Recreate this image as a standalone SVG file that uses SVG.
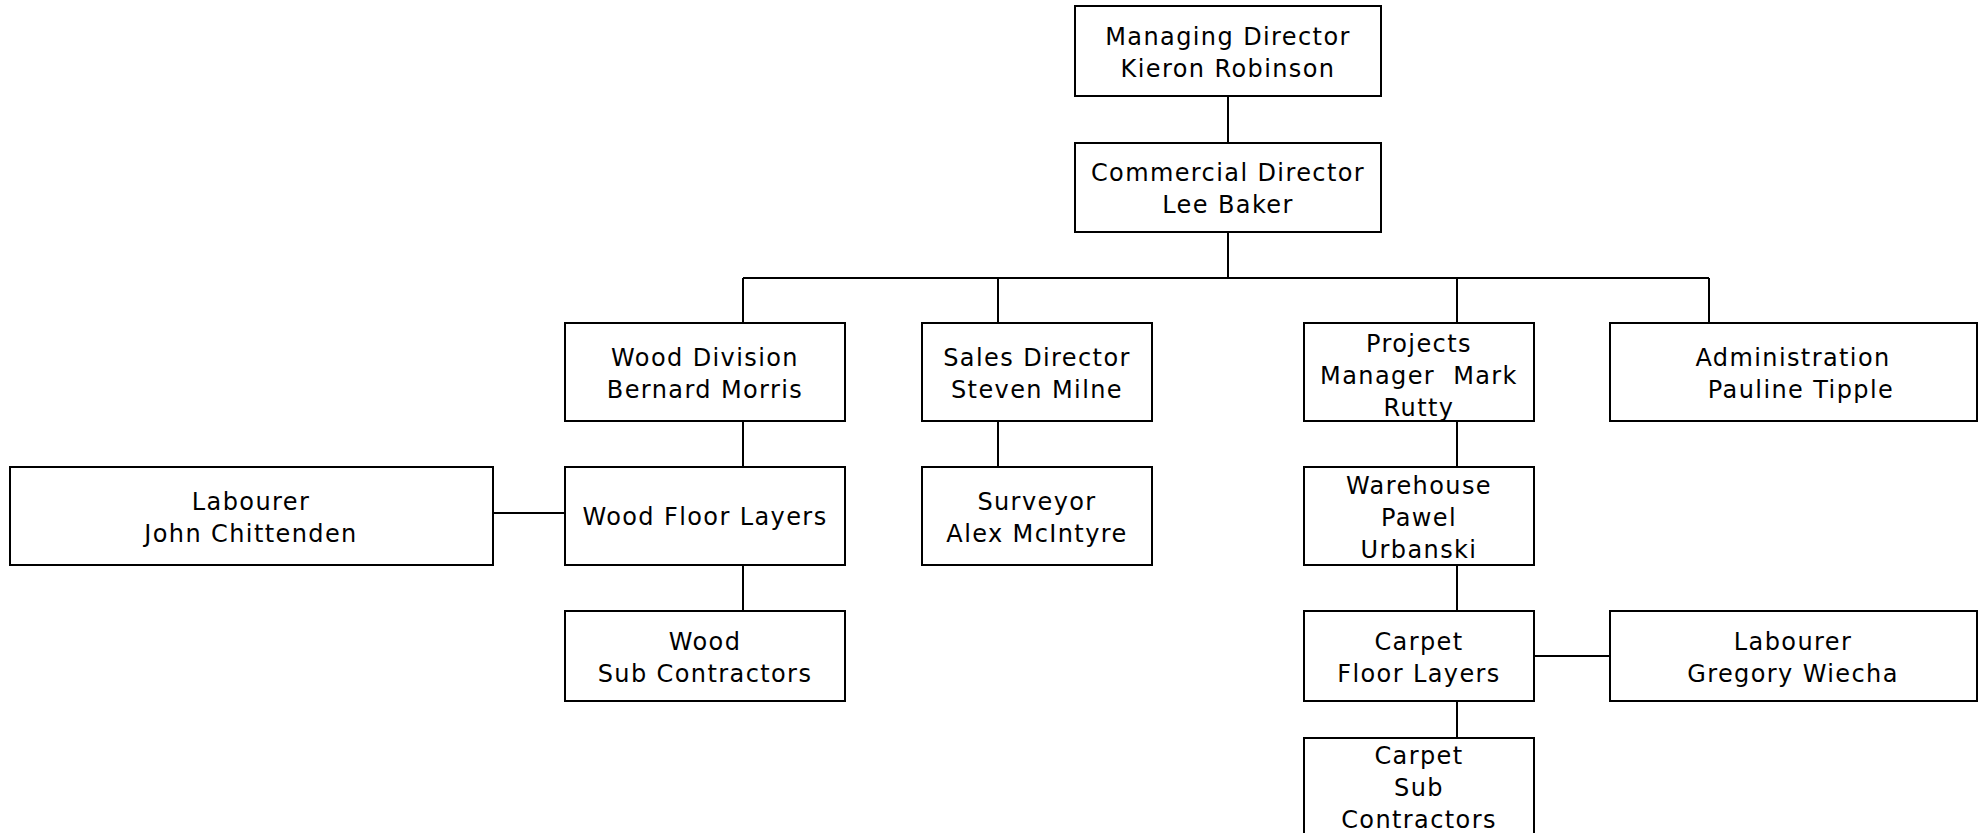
<svg xmlns="http://www.w3.org/2000/svg" width="1981" height="833" viewBox="0 0 1981 833">
<style>
.box{fill:#fff;stroke:#000;stroke-width:2}
.t{font-family:"DejaVu Sans",Verdana,sans-serif;font-size:24px;letter-spacing:1.4px;fill:#000;text-anchor:middle}
.c{stroke:#000;stroke-width:2;fill:none}
</style>
<rect width="1981" height="833" fill="#fff"/>
<g id="connectors">
<path class="c" d="M1228 96V143M1228 232V278M743 278H1709M743 278V323M998 278V323M1457 278V323M1709 278V323"/>
<path class="c" d="M743 421V467M998 421V467M1457 421V467M493 513H565M743 565V611M1457 565V611M1534 656H1610M1457 701V738"/>
</g>
<g id="managing-director"><rect class="box" x="1075" y="6" width="306" height="90"/><text class="t" x="1228" y="45">Managing Director</text><text class="t" x="1228" y="77">Kieron Robinson</text></g>
<g id="commercial-director"><rect class="box" x="1075" y="143" width="306" height="89"/><text class="t" x="1228" y="181">Commercial Director</text><text class="t" x="1228" y="213">Lee Baker</text></g>
<g id="wood-division"><rect class="box" x="565" y="323" width="280" height="98"/><text class="t" x="705" y="366">Wood Division</text><text class="t" x="705" y="398">Bernard Morris</text></g>
<g id="sales-director"><rect class="box" x="922" y="323" width="230" height="98"/><text class="t" x="1037" y="366">Sales Director</text><text class="t" x="1037" y="398">Steven Milne</text></g>
<g id="projects-manager"><rect class="box" x="1304" y="323" width="230" height="98"/><text class="t" x="1419" y="352">Projects</text><text class="t" x="1419" y="384" xml:space="preserve">Manager  Mark</text><text class="t" x="1419" y="416">Rutty</text></g>
<g id="administration"><rect class="box" x="1610" y="323" width="367" height="98"/><text class="t" x="1793" y="366">Administration</text><text class="t" x="1801" y="398">Pauline Tipple</text></g>
<g id="labourer-john"><rect class="box" x="10" y="467" width="483" height="98"/><text class="t" x="251" y="510">Labourer</text><text class="t" x="251" y="542">John Chittenden</text></g>
<g id="wood-floor-layers"><rect class="box" x="565" y="467" width="280" height="98"/><text class="t" x="705" y="525">Wood Floor Layers</text></g>
<g id="surveyor"><rect class="box" x="922" y="467" width="230" height="98"/><text class="t" x="1037" y="510">Surveyor</text><text class="t" x="1037" y="542">Alex McIntyre</text></g>
<g id="warehouse"><rect class="box" x="1304" y="467" width="230" height="98"/><text class="t" x="1419" y="494">Warehouse</text><text class="t" x="1419" y="526">Pawel</text><text class="t" x="1419" y="558">Urbanski</text></g>
<g id="wood-sub-contractors"><rect class="box" x="565" y="611" width="280" height="90"/><text class="t" x="705" y="650">Wood</text><text class="t" x="705" y="682">Sub Contractors</text></g>
<g id="carpet-floor-layers"><rect class="box" x="1304" y="611" width="230" height="90"/><text class="t" x="1419" y="650">Carpet</text><text class="t" x="1419" y="682">Floor Layers</text></g>
<g id="labourer-gregory"><rect class="box" x="1610" y="611" width="367" height="90"/><text class="t" x="1793" y="650">Labourer</text><text class="t" x="1793" y="682">Gregory Wiecha</text></g>
<g id="carpet-sub-contractors"><rect class="box" x="1304" y="738" width="230" height="110"/><text class="t" x="1419" y="764">Carpet</text><text class="t" x="1419" y="796">Sub</text><text class="t" x="1419" y="828">Contractors</text></g>
</svg>
